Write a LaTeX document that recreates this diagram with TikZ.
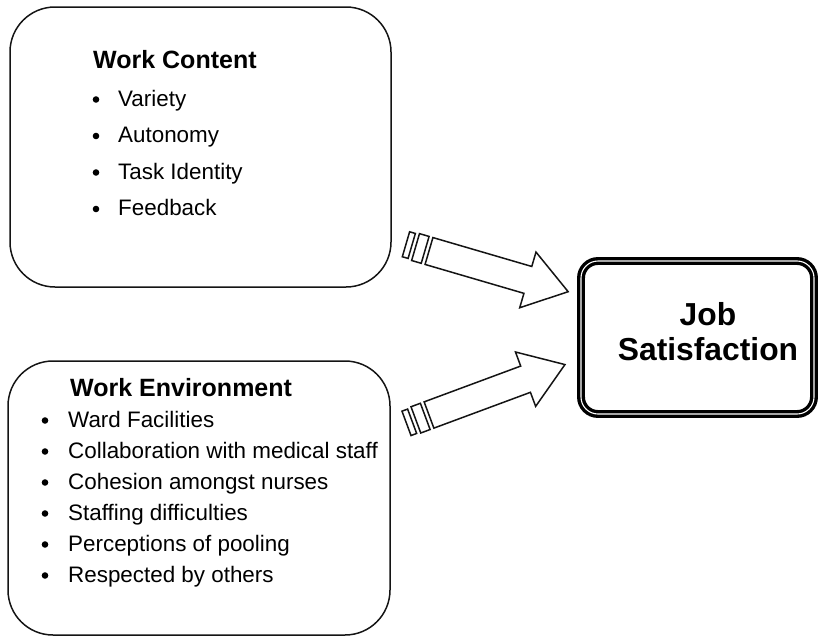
\documentclass[tikz,border=0pt]{standalone}
\usepackage{fontspec}
\setmainfont{Liberation Sans}
\begin{document}
\begin{tikzpicture}[x=1pt,y=-1pt,
  ink/.style={draw=black!92, line width=1.5pt},
  panel/.style={ink, rounded corners=45pt, inner sep=0pt},
  goal/.style={draw=black, line width=3.4pt, double=white, double distance=1.1pt,
               rounded corners=17pt, inner sep=0pt},
  heading/.style={anchor=base west, inner sep=0pt, text=black,
                  font=\bfseries\fontsize{25}{30}\selectfont},
  item/.style={anchor=base west, inner sep=0pt, text=black,
               font=\fontsize{22.4}{27}\selectfont},
  goaltext/.style={anchor=base, inner sep=0pt, text=black,
                   font=\bfseries\fontsize{31.8}{36}\selectfont},
  dot/.style={fill=black},
  blockarrow/.style={draw=black!92, line width=1.5pt, line join=miter, fill=white}]
\useasboundingbox (0,0) rectangle (819,637);

% boxes
\node[panel, minimum width=381pt, minimum height=280pt] (content) at (200.5,147) {};
\node[panel, minimum width=382pt, minimum height=274pt] (environ) at (199,498) {};
\node[goal, minimum width=233pt, minimum height=153pt] (job) at (697.5,337.5) {};

% work content
\node[heading] (wch) at (93,68) {Work Content};
\foreach \t [count=\i] in {Variety, Autonomy, Task Identity, Feedback}{
  \pgfmathsetmacro{\yb}{106+36.5*(\i-1)}
  \fill[dot] (96,\yb-6.5) circle (3.3);
  \node[item] (wc\i) at (118,\yb) {\t};
}

% work environment
\node[heading] (weh) at (70,396) {Work Environment};
\foreach \t [count=\i] in {Ward Facilities, Collaboration with medical staff,
    Cohesion amongst nurses, Staffing difficulties, Perceptions of pooling,
    Respected by others}{
  \pgfmathsetmacro{\yb}{427+31*(\i-1)}
  \fill[dot] (45,\yb-6.5) circle (3.3);
  \node[item] (we\i) at (68,\yb) {\t};
}

% job satisfaction
\node[goaltext] (job1) at (708,325) {Job};
\node[goaltext] (job2) at (708,360) {Satisfaction};

% striped block arrows
\foreach \ox/\oy/\ang in {429/251/-16.3, 429/415/20.35}{
  \begin{scope}[shift={(\ox,\oy)}, rotate=\ang]
    \draw[blockarrow] (0,-14) -- (103,-14) -- (103,-29) -- (145,0)
      -- (103,29) -- (103,14) -- (0,14) -- cycle;
    \draw[blockarrow] (-14,-14) rectangle (-4,14);
    \draw[blockarrow] (-24,-13) rectangle (-18,13);
  \end{scope}
}
\end{tikzpicture}
\end{document}
